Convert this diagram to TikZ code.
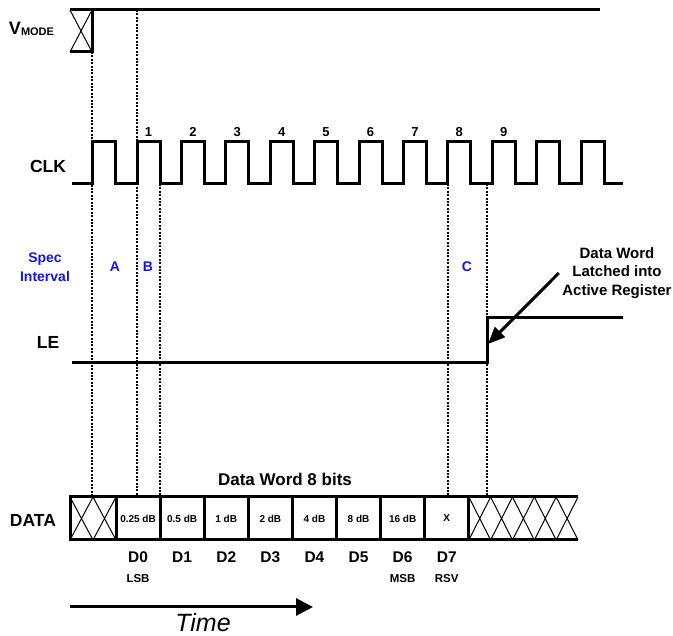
\documentclass[tikz,border=0pt]{standalone}
\usepackage{fontspec}
\setmainfont{Liberation Sans}
\usetikzlibrary{arrows.meta,positioning}
\definecolor{specblue}{RGB}{20,20,235}
\tikzset{
  wave/.style={line width=3pt, line join=miter},
  marker/.style={line width=2.2pt, dash pattern=on 2pt off 1.4pt},
  xline/.style={line width=1pt},
  sig/.style={font=\fontsize{17.5}{20}\selectfont\bfseries, inner sep=0pt},
  num/.style={font=\fontsize{13}{15}\selectfont\bfseries, inner sep=0pt},
  spec/.style={text=specblue, font=\fontsize{14}{19}\selectfont\bfseries, inner sep=0pt, align=center},
  cell/.style={draw, line width=3pt, minimum width=44.1pt, minimum height=43pt, inner sep=0pt, font=\fontsize{10}{12}\selectfont\bfseries},
  dlab/.style={font=\fontsize{15.5}{17}\selectfont\bfseries, inner sep=0pt, text height=11pt, text depth=0pt},
  tag/.style={font=\fontsize{11.5}{13}\selectfont\bfseries, inner sep=0pt, text height=8.3pt, text depth=0pt},
  note/.style={font=\fontsize{15}{18.5}\selectfont\bfseries, align=center},
  pointer/.style={line width=3pt, -{Triangle[length=17pt,width=14pt]}}
}
\begin{document}
\begin{tikzpicture}[x=1pt,y=-1pt]
    \useasboundingbox (0,0) rectangle (673,636);
    % Draw the interval markers
    \draw[marker] (92,52) -- (92,497);
    \draw[marker] (137,10) -- (137,497);
    \draw[marker] (160,184) -- (160,497);
    \draw[marker] (448,184) -- (448,497);
    \draw[marker] (487,184) -- (487,497);
    % Draw V_MODE
    \node[sig, font=\fontsize{18}{20}\selectfont\bfseries] (vmode) at (31.5,29)
      {V\raisebox{-1.5pt}{\fontsize{11}{11}\selectfont MODE}};
    \draw[xline] (70,10) -- (92,52) (70,52) -- (92,10);
    \draw[wave] (600,10) -- (70,10) (92,10) -- (92,52) -- (70,52);
    % Draw the clock
    \node[sig] (clk) at (48,166) {CLK};
    \draw[wave] (72,184) -- (92,184) -- (92,142) -- (115,142) -- (115,184)
      \foreach \k in {0,...,10} { -- ({137+44.4*\k},184) -- ({137+44.4*\k},142)
      -- ({160+44.4*\k},142) -- ({160+44.4*\k},184)} -- (623,184);
    \foreach \k in {1,...,9}
      \node[num] (n\k) at ({148.5+44.4*(\k-1)},132) {\k};
    % Spec intervals
    \node[spec] (spec) at (45,267) {Spec\\Interval};
    \node[spec] (ivA) at (115,267) {A};
    \node[spec] (ivB) at (148,267) {B};
    \node[spec] (ivC) at (467,267) {C};
    % Draw LE
    \node[sig] (le) at (48,342) {LE};
    \draw[wave] (72,363) -- (487,363) -- (487,318) -- (623,318);
    \node[note] (latch) at (617,273) {Data Word\\Latched into\\Active Register};
    \coordinate (LEedge) at (488,344);
    \draw[pointer] (latch.west) -- (LEedge);
    % Draw the data word
    \node[sig] (data) at (33,520) {DATA};
    \node[sig, font=\fontsize{17}{20}\selectfont\bfseries] (word) at (285,479) {Data Word 8 bits};
    \foreach \lab [count=\i from 0] in {0.25 dB,0.5 dB,1 dB,2 dB,4 dB,8 dB,16 dB,X}
      \node[cell] (c\i) at ({116+44.1*(\i+0.5)},518.5) {\lab};
    \foreach \i in {0,...,7}
      \node[dlab, below=9.5pt of c\i] (D\i) {D\i};
    \node[tag, below=12pt of D0] (lsb) {LSB};
    \node[tag, below=12pt of D6] (msb) {MSB};
    \node[tag, below=12pt of D7] (rsv) {RSV};
    \foreach \a in {70,93}
      \draw[xline] (\a,497) -- (\a+23,540) (\a,540) -- (\a+23,497);
    \foreach \k in {0,...,4}
      \draw[xline] ({468.8+21.84*\k},497) -- ({468.8+21.84*(\k+1)},540)
        ({468.8+21.84*\k},540) -- ({468.8+21.84*(\k+1)},497);
    \draw[wave] (578,497) -- (70,497) -- (70,540) -- (578,540);
    % Draw the time axis
    \coordinate (t0) at (70,607);
    \coordinate (t1) at (313,607);
    \draw[line width=3pt, -{Triangle[length=17pt,width=17pt]}] (t0) -- (t1);
    \node[font=\fontsize{25}{28}\selectfont\itshape] (time) at (203,623) {Time};
\end{tikzpicture}
\end{document}
